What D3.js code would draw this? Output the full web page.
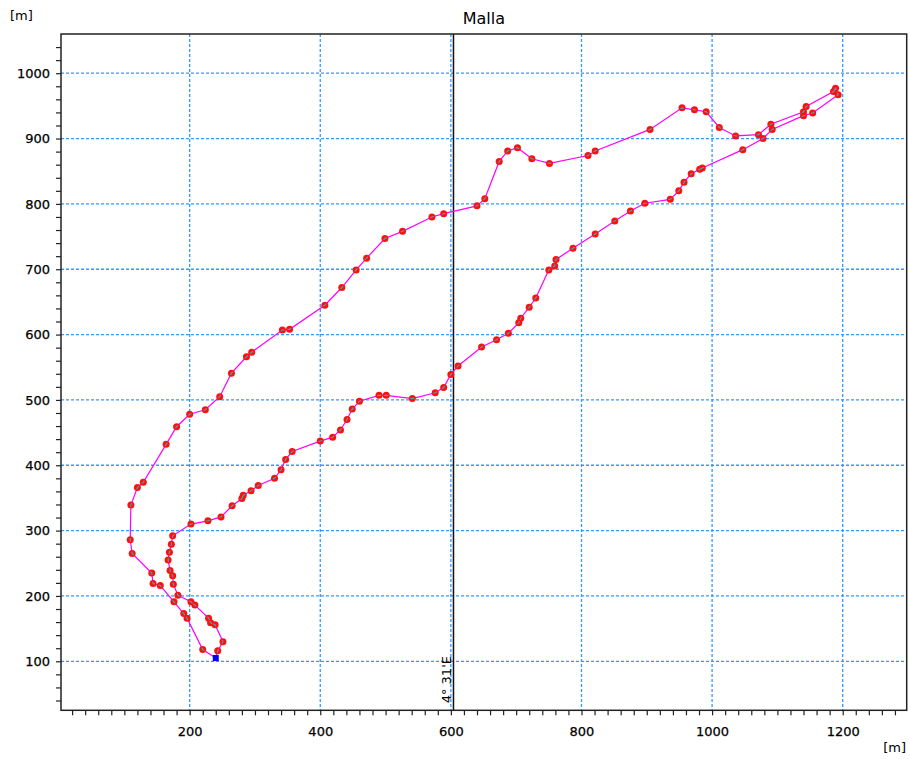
<!DOCTYPE html>
<html>
<head>
<meta charset="utf-8">
<script src="https://cdn.jsdelivr.net/npm/d3@7/dist/d3.min.js"></script>
<style>
	body { margin: 0; background: #fff; }
	svg text { font-family: "DejaVu Sans", sans-serif; fill: #000; }
</style>
</head>
<body>
<svg id="chart" width="910" height="759"></svg>
<script>
// track vertices [m], in walking order (starts at the blue square)
var eastings = [240, 220, 196, 191, 176, 155, 144, 142, 112, 109, 110, 120, 129, 164, 180, 200, 224, 246,
	264, 287, 295, 342, 353, 407, 433, 455, 471, 499, 526, 571, 589, 640, 652, 674, 687, 702, 724, 751,
	810, 821, 905, 954, 973, 991, 1011, 1036, 1071, 1090, 1140, 1144, 1186, 1189, 1193, 1154, 1140, 1092,
	1078, 1047, 985, 981, 968, 957, 949, 936, 897, 875, 851, 821, 787, 761, 759, 750, 730, 720, 707, 704,
	688, 670, 647, 611, 600, 589, 576, 541, 501, 490, 460, 449, 441, 431, 419, 400, 357, 347, 340, 330,
	305, 294, 282, 280, 265, 248, 228, 202, 174, 172, 169, 167, 170, 174, 175, 182, 202, 208, 229, 232,
	239, 251, 243];
var northings = [105, 118, 166, 173, 191, 216, 219, 235, 265, 286, 339, 366, 374, 432, 459, 478, 485, 505,
	541, 566, 573, 607, 608, 645, 672, 699, 717, 747, 758, 780, 785, 797, 808, 865, 881, 886, 869, 862,
	874, 881, 914, 947, 944, 941, 917, 904, 906, 922, 941, 949, 972, 977, 967, 939, 935, 914,
	900, 883, 855, 853, 846, 833, 820, 807, 801, 789, 774, 754, 732, 715, 705, 699, 656, 642, 625, 618,
	602, 592, 581, 552, 539, 519, 511, 502, 507, 507, 498, 486, 470, 454, 443, 437, 421, 409, 393, 380,
	369, 361, 354, 349, 338, 321, 315, 310, 292, 279, 267, 255, 239, 231, 218, 201, 191, 186, 166, 159,
	156, 130, 116];

var xLabelTicks = [200, 400, 600, 800, 1000, 1200];
var yLabelTicks = [100, 200, 300, 400, 500, 600, 700, 800, 900, 1000];
var meridianX = 604;
var meridianLabel = "4° 31'E";
var chartTitle = "Malla";
var unitLabel = "[m]";

(function () {
	var svg = d3.select("#chart");
	var margin = { top: 34, right: 3.3, bottom: 48.7, left: 61 },
		width = +svg.attr("width") - margin.left - margin.right,
		height = +svg.attr("height") - margin.top - margin.bottom;

	var g = svg.append("g").attr("transform", "translate(" + margin.left + "," + margin.top + ")");

	var data = eastings.map(function (e, i) { return { x: e, y: northings[i] }; });

	var xScale = d3.scaleLinear().domain([3, 1298]).range([0, width]);
	var yScale = d3.scaleLinear().domain([25, 1060]).range([height, 0]);

	// dashed grid
	g.append("g").selectAll("line").data(xLabelTicks).enter().append("line")
		.attr("x1", function (d) { return xScale(d); })
		.attr("x2", function (d) { return xScale(d); })
		.attr("y1", 0).attr("y2", height);
	g.append("g").selectAll("line").data(yLabelTicks).enter().append("line")
		.attr("y1", function (d) { return yScale(d); })
		.attr("y2", function (d) { return yScale(d); })
		.attr("x1", 0).attr("x2", width);
	g.selectAll("g line")
		.attr("stroke", "#3399ff")
		.attr("stroke-width", 1.3)
		.attr("stroke-dasharray", "3,2");

	// axes, minor ticks every 20 m
	var xAxis = d3.axisBottom(xScale)
		.tickValues(d3.range(20, 1300, 20))
		.tickSize(5).tickPadding(11)
		.tickFormat(function (d) { return xLabelTicks.indexOf(d) >= 0 ? d : ""; });
	var yAxis = d3.axisLeft(yScale)
		.tickValues(d3.range(40, 1060, 20))
		.tickSize(5).tickPadding(6)
		.tickFormat(function (d) { return yLabelTicks.indexOf(d) >= 0 ? d : ""; });

	var gx = g.append("g").attr("transform", "translate(0," + height + ")").call(xAxis);
	var gy = g.append("g").call(yAxis);
	[gx, gy].forEach(function (a) {
		a.select(".domain").remove();
		a.selectAll(".tick line").attr("stroke", "#222").attr("stroke-width", 1.2);
		a.selectAll(".tick text").attr("font-size", 13).attr("font-family", "DejaVu Sans")
			.attr("fill", "#000").attr("stroke", "#000").attr("stroke-width", 0.25);
	});

	// meridian
	g.append("line")
		.attr("x1", xScale(meridianX)).attr("x2", xScale(meridianX))
		.attr("y1", 0).attr("y2", height)
		.attr("stroke", "#111").attr("stroke-width", 1.5);
	g.append("text")
		.attr("transform", "translate(" + (xScale(meridianX) - 2.5) + "," + (height - 7) + ") rotate(-90)")
		.attr("font-size", 13)
		.text(meridianLabel);

	// track
	var line = d3.line()
		.x(function (d) { return xScale(d.x); })
		.y(function (d) { return yScale(d.y); });
	var closed = data.concat([data[0]]);

	g.append("path")
		.datum(closed)
		.attr("fill", "none")
		.attr("stroke", "#f0f")
		.attr("stroke-width", 1.2)
		.attr("d", line);

	g.selectAll(".dot")
		.data(data.slice(1))
		.enter().append("circle")
		.attr("class", "dot")
		.attr("cx", function (d) { return xScale(d.x); })
		.attr("cy", function (d) { return yScale(d.y); })
		.attr("r", 3.5)
		.attr("fill", "#ff1010");

	// line shows teal inside the markers
	var clip = svg.append("defs").append("clipPath").attr("id", "dotclip");
	clip.selectAll("circle")
		.data(data.slice(1))
		.enter().append("circle")
		.attr("cx", function (d) { return xScale(d.x); })
		.attr("cy", function (d) { return yScale(d.y); })
		.attr("r", 2);
	g.append("path")
		.datum(closed)
		.attr("fill", "none")
		.attr("stroke", "#30b0b8")
		.attr("stroke-width", 1.1)
		.attr("clip-path", "url(#dotclip)")
		.attr("d", line);

	// start point
	g.append("rect")
		.attr("x", xScale(data[0].x) - 3)
		.attr("y", yScale(data[0].y) - 3)
		.attr("width", 6).attr("height", 6)
		.attr("fill", "#0000ff");

	// frame
	g.append("rect")
		.attr("width", width).attr("height", height)
		.attr("fill", "none")
		.attr("stroke", "#222").attr("stroke-width", 1.5);

	svg.append("text")
		.attr("x", margin.left + width / 2).attr("y", 24)
		.attr("text-anchor", "middle")
		.attr("font-size", 16)
		.text(chartTitle);
	svg.append("text")
		.attr("x", 10).attr("y", 20)
		.attr("font-size", 13)
		.text(unitLabel);
	svg.append("text")
		.attr("x", 906).attr("y", 752)
		.attr("text-anchor", "end")
		.attr("font-size", 13)
		.text(unitLabel);
})();
</script>
</body>
</html>
